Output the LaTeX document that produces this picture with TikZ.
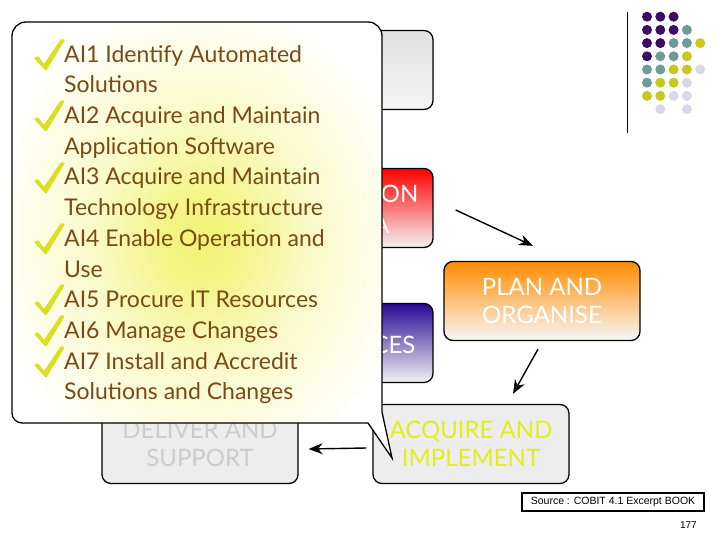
\documentclass[tikz,border=0pt]{standalone}
\usepackage{fontspec}
\setmainfont{Lato}
\setsansfont{Liberation Sans}
\usetikzlibrary{arrows.meta,positioning}

\definecolor{dotpurple}{HTML}{3B0B68}
\definecolor{dotteal}{HTML}{6E9A9A}
\definecolor{dotolive}{HTML}{C8C81E}
\definecolor{dotlilac}{HTML}{D8D8E8}
\definecolor{itembrown}{HTML}{7A4A14}
\definecolor{tickyellow}{HTML}{D8E020}
\definecolor{acqyellow}{HTML}{E2EE1C}
\definecolor{glowyellow}{HTML}{F2F272}

\pgfdeclareradialshading{calloutglow}{\pgfpoint{0bp}{0bp}}{color(0bp)=(glowyellow); color(5bp)=(glowyellow!85!white); color(14bp)=(glowyellow!40!white); color(28bp)=(white); color(50bp)=(white)}

\tikzset{
    checkmark/.pic = {
        \fill[tickyellow, rounded corners = 1pt]
            (-11,-12) -- (-7,-14) -- (-1,-6) -- (16,-31) -- (20,-30) -- (1,1) -- cycle;
    }
}

\begin{document}
\begin{tikzpicture}[x = 1pt, y = -1pt]
        \tikzstyle{dombox}=[draw, line width = 1.3pt, rounded corners = 9pt, minimum width = 196pt, minimum height = 79pt, inner sep = 0pt, align = center, text = white, font = \fontsize{24}{28}\selectfont]
        \tikzstyle{cutlabel}=[anchor = east, inner sep = 0pt, text = white, font = \fontsize{24}{28}\selectfont]
        \tikzstyle{flowarrow}=[-{Stealth[length = 14pt, width = 11pt]}, line width = 1.4pt]
        \useasboundingbox (0,0) rectangle (720,540);

        % domains half hidden behind the callout
        \node (top) [dombox, top color = black!12, bottom color = black!4] at (335,70) {};
        \node (info) [dombox, top color = red, bottom color = black!5] at (335,208) {};
        \node (res) [dombox, top color = {rgb,255:red,40;green,10;blue,150}, bottom color = black!5] at (335,343) {};
        \node (infoend) [cutlabel] at ([xshift = -15pt, yshift = 14pt]info.east) {ON};
        \node (infoend2) [cutlabel] at ([xshift = -44pt, yshift = -17pt]info.east) {A};
        \node (resend) [cutlabel] at ([xshift = -18pt, yshift = -2pt]res.east) {CES};
        \node (plan) [dombox, top color = {rgb,255:red,255;green,140;blue,0}, bottom color = black!3] at (542,301) {PLAN AND\\ORGANISE};
        \node (acq) [dombox, fill = black!7, text = acqyellow] at (471,444) {ACQUIRE AND\\IMPLEMENT};
        \node (deliv) [dombox, fill = black!7, text = black!20] at (200,444) {DELIVER AND\\SUPPORT};

        \path
            ([xshift = 22pt, yshift = -2pt]info.east) edge[flowarrow] ([xshift = -9pt, yshift = 15pt]plan.north)
            ([xshift = -4pt, yshift = -8pt]plan.south) edge[flowarrow] ([xshift = 42pt, yshift = 10pt]acq.north)
            ([xshift = -6pt, yshift = -4pt]acq.west) edge[flowarrow] ([xshift = 10pt, yshift = -5pt]deliv.east)
        ;

        % callout
        \shade[draw = black, line width = 1.3pt, shading = calloutglow]
            (12,300) [rounded corners = 14pt] -- (12,22) -- (382,22) -- (382,300) [sharp corners] -- (382,412) -- (392,458) -- (368,423) [rounded corners = 10pt] -- (12,423) -- cycle;

        \node (items) [anchor = north west, align = left, inner sep = 0pt, text = itembrown, font = \fontsize{23}{30.7}\selectfont] at (64,45)
            {AI1 Identify Automated\\Solutions\\AI2 Acquire and Maintain\\Application Software\\AI3 Acquire and Maintain\\Technology Infrastructure\\AI4 Enable Operation and\\Use\\AI5 Procure IT Resources\\AI6 Manage Changes\\AI7 Install and Accredit\\Solutions and Changes};
        \foreach \ty in {70, 131, 193, 254, 315, 346, 377}
            \pic at (45,\ty) {checkmark};

        % dots
        \foreach \pattern [count = \r from 0] in {{dotpurple,dotpurple,dotpurple},{dotpurple,dotpurple,dotpurple,dotteal},{dotpurple,dotpurple,dotteal,dotteal,dotolive},{dotpurple,dotteal,dotteal,dotolive},{dotteal,dotteal,dotolive,dotolive,dotlilac},{dotteal,dotolive,dotolive,dotlilac},{dotolive,dotolive,dotlilac,dotlilac},{white,dotlilac,white,dotlilac}}
            \foreach \col [count = \c from 0] in \pattern
                \fill[\col] (647 + 13.3*\c, 16.7 + 13.2*\r) circle (5pt);
        \draw[line width = 1pt] (627,12) -- (627,133);

        \node (source) [draw, line width = 1.2pt, minimum width = 182pt, minimum height = 18pt, inner sep = 0pt, font = \sffamily\fontsize{10.5}{12}\selectfont] at (613,502) {Source : COBIT 4.1 Excerpt BOOK};
        \node (page) [anchor = east, inner sep = 0pt, font = \sffamily\fontsize{10}{12}\selectfont] at (697,525) {177};
    \end{tikzpicture}
\end{document}
